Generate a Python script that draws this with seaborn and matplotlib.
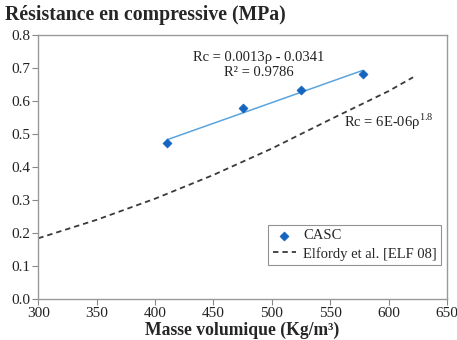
import numpy as np
import pandas as pd
import matplotlib
matplotlib.use("Agg")
import matplotlib.pyplot as plt
import seaborn as sns

# CASC measured data
rho_casc = [410.6, 475.2, 524.9, 577.7]
rc_casc = [0.472, 0.578, 0.634, 0.682]

# Elfordy et al. curve
rho_elf = [300, 350, 400, 450, 500, 550, 600, 621]
rc_elf = [0.184, 0.240, 0.304, 0.376, 0.456, 0.544, 0.630, 0.672]

x_ticks = [300, 350, 400, 450, 500, 550, 600, 650]
y_ticks = [0.0, 0.1, 0.2, 0.3, 0.4, 0.5, 0.6, 0.7, 0.8]

sns.set_theme(style="white")
plt.rcParams['font.family'] = ['Liberation Serif', 'DejaVu Serif']
plt.rcParams['mathtext.fontset'] = 'custom'
plt.rcParams['mathtext.rm'] = 'Liberation Serif'

fig = plt.figure(figsize=(4.57, 3.40), dpi=100)
ax = fig.add_axes([0.0838, 0.1206, 0.8942, 0.7764])

df_c = pd.DataFrame({"rho": rho_casc, "rc": rc_casc})
df_e = pd.DataFrame({"rho": rho_elf, "rc": rc_elf})

sns.lineplot(data=df_e, x="rho", y="rc", ax=ax, color="#3a3a3a",
             linestyle=(0, (3, 2.2)), linewidth=1.3, label="Elfordy et al. [ELF 08]")
sns.regplot(data=df_c, x="rho", y="rc", ax=ax, ci=None, scatter=False,
            line_kws=dict(color="#5AA5DE", linewidth=1.1))
sns.scatterplot(data=df_c, x="rho", y="rc", ax=ax, marker="D", s=22,
                color="#1565C0", edgecolor="#1565C0", label="CASC", zorder=5)

ax.set_xlim(300, 650)
ax.set_ylim(0.0, 0.8)
ax.set_xticks(x_ticks)
ax.set_yticks(y_ticks)
ax.set_xticklabels([str(v) for v in x_ticks], fontsize=11)
ax.set_yticklabels([f"{v:.1f}" for v in y_ticks], fontsize=11)
ax.tick_params(axis='both', direction='out', length=4, width=0.8, color="#888888",
               pad=2, bottom=True, left=True, labelcolor="#222222")
for s in ax.spines.values():
    s.set_color("#999999")
    s.set_linewidth(1.0)

ax.set_xlabel("Masse volumique (Kg/m³)", fontsize=12.7, fontweight="bold", labelpad=1)
ax.set_ylabel("")
fig.text(0.012, 0.955, "Résistance en compressive (MPa)", fontsize=14.2,
         fontweight="bold", ha="left", va="center")

ax.text(489, 0.733, "Rc = 0.0013ρ - 0.0341", fontsize=10.5, ha="center", va="center", color="#222222")
ax.text(489, 0.685, "R² = 0.9786", fontsize=10.5, ha="center", va="center", color="#222222")
ax.text(562, 0.537, "Rc = 6E-06ρ$^{1.8}$", fontsize=10.5, ha="left", va="center", color="#222222")

handles, labels = ax.get_legend_handles_labels()
order = [labels.index("CASC"), labels.index("Elfordy et al. [ELF 08]")]
leg = ax.legend([handles[i] for i in order], [labels[i] for i in order],
                loc="lower left", bbox_to_anchor=(0.563, 0.129), fontsize=10.5,
                frameon=True, fancybox=False, edgecolor="#777777",
                handlelength=1.6, borderpad=0.3, labelspacing=0.3, handletextpad=0.5,
                borderaxespad=0)
leg.get_frame().set_linewidth(0.8)

fig.savefig("out.png", dpi=100)
